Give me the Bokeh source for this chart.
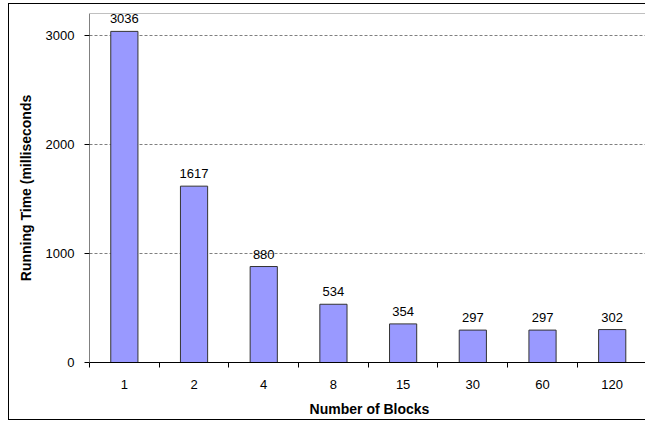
from bokeh.plotting import figure
from bokeh.models import Range1d, FixedTicker, ColumnDataSource, LabelSet, InlineStyleSheet
from bokeh.core.properties import value
from bokeh.embed import file_html
from bokeh.resources import INLINE

categories = ["1", "2", "4", "8", "15", "30", "60", "120"]
running_time = [3036, 1617, 880, 534, 354, 297, 297, 302]
y_ticks = [0, 1000, 2000, 3000]
x_title = "Number of Blocks"
y_title = "Running Time (milliseconds"

xs = list(range(1, len(categories) + 1))
src = ColumnDataSource(dict(x=xs, top=running_time, label=[str(v) for v in running_time]))

FONT = "Liberation Sans"

p = figure(width=645, height=422, frame_width=560, frame_height=349,
           output_backend="svg", toolbar_location=None,
           x_range=Range1d(0.5, 8.535), y_range=Range1d(0, 3200),
           min_border_left=89, min_border_right=0, min_border_top=13, min_border_bottom=60)

p.vbar(x="x", top="top", width=0.39, source=src, fill_color="#9999FF",
       line_color="#333333", line_width=1)

labels = LabelSet(x="x", y="top", text="label", source=src, text_align="center",
                  text_baseline="bottom", y_offset=8, text_font=value(FONT),
                  text_font_size="13px", text_color="#000000")
p.add_layout(labels)

# outer chart border and top edge of the plot area
p.stylesheets = [InlineStyleSheet(css=""":host { overflow: hidden !important; max-width: 645px !important; max-height: 422px !important; }
:host::after { content: ''; position: absolute; left: 8px; top: 3px; width: 640px; height: 417px;
  border: 1px solid #000; border-right: none; pointer-events: none; box-sizing: border-box; }
:host::before { content: ''; position: absolute; left: 89px; top: 13px; width: 560px; height: 0px;
  border-top: 1px solid #c0c0c0; pointer-events: none; z-index: 5; }""")]

p.outline_line_color = None
p.background_fill_color = "white"
p.border_fill_color = "white"

p.xgrid.visible = False
p.ygrid.ticker = FixedTicker(ticks=y_ticks[1:])
p.ygrid.grid_line_color = "#808080"
p.ygrid.grid_line_dash = "3 2"
p.ygrid.grid_line_width = 1

xa = p.xaxis[0]
xa.ticker = FixedTicker(ticks=xs, minor_ticks=[i + 0.5 for i in range(0, 8)])
xa.major_label_overrides = {x: c for x, c in zip(xs, categories)}
xa.major_tick_out = 0
xa.major_tick_in = 0
xa.minor_tick_out = 5
xa.minor_tick_in = 0
xa.minor_tick_line_color = "#000000"
xa.axis_line_color = "#000000"
xa.major_label_standoff = 12
xa.major_label_text_font = FONT
xa.major_label_text_font_size = "13px"
xa.major_label_text_color = "#000000"
xa.axis_label = x_title
xa.axis_label_text_font = FONT
xa.axis_label_text_font_size = "14px"
xa.axis_label_text_font_style = "bold"
xa.axis_label_text_color = "#000000"
xa.axis_label_standoff = 9

ya = p.yaxis[0]
ya.ticker = FixedTicker(ticks=y_ticks)
ya.minor_tick_line_color = None
ya.major_tick_out = 5
ya.major_tick_in = 0
ya.major_tick_line_color = "#000000"
ya.axis_line_color = "#808080"
ya.major_label_standoff = 10
ya.major_label_text_font = FONT
ya.major_label_text_font_size = "13px"
ya.major_label_text_color = "#000000"
ya.axis_label = y_title
ya.axis_label_text_font = FONT
ya.axis_label_text_font_size = "14px"
ya.axis_label_text_font_style = "bold"
ya.axis_label_text_color = "#000000"
ya.axis_label_standoff = 9

open("out.html", "w").write(file_html(p, INLINE))
